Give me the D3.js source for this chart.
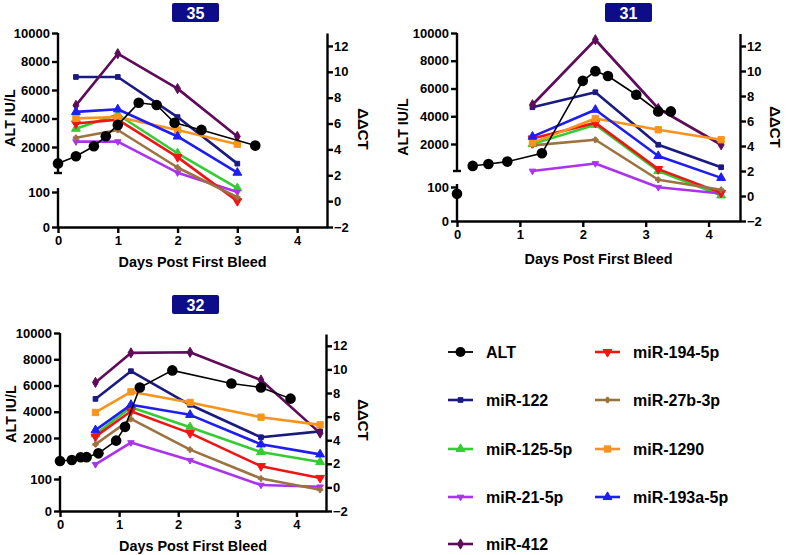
<!DOCTYPE html>
<html>
<head>
<meta charset="utf-8">
<script src="https://cdn.jsdelivr.net/npm/d3@7"></script>
<style>
  body { margin: 0; background: #fff; }
  svg text { font-family: "Liberation Sans", Arial, sans-serif; font-weight: bold; }
</style>
</head>
<body>
<svg id="chart" width="789" height="555"></svg>
<script>
// series names, order is the legend order (column 1 then 2, ALT first)
const mirNames = ["miR-122", "miR-125-5p", "miR-21-5p", "miR-412",
                  "miR-194-5p", "miR-27b-3p", "miR-1290", "miR-193a-5p"];
const leftTicks = [2000, 4000, 6000, 8000, 10000];
const lowTicks = [0, 100];
const rightTicks = [-2, 0, 2, 4, 6, 8, 10, 12];
const dayTicks = [0, 1, 2, 3, 4];

// ---- animal 35 ----
const days35 = [0.3, 1, 2, 3];
const dct35 = [
    [9.6, 9.6, 6.5, 2.9],   // miR-122
    [5.6, 6.7, 3.7, 1.0],   // miR-125-5p
    [4.6, 4.6, 2.2, 0.7],   // miR-21-5p
    [7.4, 11.4, 8.7, 5.0],  // miR-412
    [6.0, 6.3, 3.4, 0.0],   // miR-194-5p
    [4.9, 5.5, 2.6, 0.3],   // miR-27b-3p
    [6.4, 6.5, 5.5, 4.4],   // miR-1290
    [6.9, 7.1, 5.0, 2.2]    // miR-193a-5p
];
const altDays35 = [0, 0.3, 0.6, 0.8, 1.0, 1.35, 1.65, 1.95, 2.4, 3.3];
const alt35 = [850, 1350, 2050, 2750, 3550, 5100, 4950, 3700, 3200, 2100];

// ---- animal 31 ----
const days31 = [1.2, 2.2, 3.2, 4.2];
const dct31 = [
    [7.1, 8.3, 4.1, 2.3],
    [4.15, 5.7, 2.0, 0.05],
    [2.0, 2.6, 0.7, 0.2],
    [7.3, 12.5, 7.0, 4.1],
    [4.6, 5.85, 2.15, 0.25],
    [4.05, 4.5, 1.3, 0.5],
    [4.25, 6.2, 5.3, 4.5],
    [4.75, 6.9, 3.2, 1.45]
];
const altDays31 = [0, 0.25, 0.5, 0.8, 1.35, 2.0, 2.2, 2.4, 2.85, 3.2, 3.4];
const alt31 = [80, 420, 560, 730, 1330, 6550, 7250, 6900, 5550, 4350, 4350];

// ---- animal 32 ----
const days32 = [0.6, 1.2, 2.2, 3.4, 4.4];
const dct32 = [
    [7.5, 9.85, 7.0, 4.25, 4.75],
    [4.5, 6.8, 5.1, 3.0, 2.15],
    [1.95, 3.8, 2.3, 0.2, 0.05],
    [8.9, 11.4, 11.45, 9.1, 4.6],
    [4.3, 6.45, 4.6, 1.8, 0.8],
    [3.65, 5.8, 3.2, 0.75, -0.2],
    [6.35, 8.1, 7.2, 5.95, 5.3],
    [4.85, 7.0, 6.15, 3.65, 2.8]
];
const altDays32 = [0, 0.2, 0.35, 0.45, 0.65, 0.95, 1.1, 1.35, 1.9, 2.9, 3.4, 3.9];
const alt32 = [250, 320, 530, 540, 830, 1800, 2850, 5850, 7150, 6150, 5850, 5000];

// styles
const colors = {
    "ALT": "#000000",
    "miR-122": "#1a1a80",
    "miR-125-5p": "#33cc33",
    "miR-21-5p": "#aa33ee",
    "miR-412": "#5e0b5a",
    "miR-194-5p": "#f01515",
    "miR-27b-3p": "#9c7240",
    "miR-1290": "#f7941d",
    "miR-193a-5p": "#1e1ef0"
};
const shapes = {
    "miR-122": [d3.symbolSquare, 22, 0],
    "miR-125-5p": [d3.symbolTriangle, 34, 0],
    "miR-21-5p": [d3.symbolTriangle, 18, 180],
    "miR-412": [d3.symbolDiamond, 30, 0],
    "miR-194-5p": [d3.symbolTriangle, 34, 180],
    "miR-27b-3p": [d3.symbolCross, 16, 0],
    "miR-1290": [d3.symbolSquare, 40, 0],
    "miR-193a-5p": [d3.symbolTriangle, 34, 0]
};

const svg = d3.select("#chart");
const fmt = d3.format("d");

function styleAxis(g) {
    g.selectAll("path, line").attr("stroke", "#000").attr("stroke-width", 2.4);
    g.selectAll("text").attr("font-size", 13).attr("fill", "#000")
        .style("font-weight", "bold");
}

function marker(g, name, cx, cy) {
    var s = shapes[name];
    g.append("path")
        .attr("d", d3.symbol().type(s[0]).size(s[1])())
        .attr("transform", "translate(" + cx + "," + cy + ") rotate(" + s[2] + ")")
        .attr("fill", colors[name])
        .attr("stroke", colors[name])
        .attr("stroke-width", 1);
}

function drawPanel(p, title, days, dct, altDays, alt) {
    var g = svg.append("g");
    var x = d3.scaleLinear().domain([0, 4.5]).range([p.left, p.right]);
    var yUp = d3.scaleLinear().domain([0, 10000]).range([p.up0, p.up10k]);
    var yLo = d3.scaleLinear().domain([0, 100]).range([p.bottom, p.lo100]);
    var yR = d3.scaleLinear().domain([-2, 13]).range([p.bottom, p.rTop]);

    // x axis
    g.append("g")
        .attr("transform", "translate(0," + p.bottom + ")")
        .call(d3.axisBottom(x).tickValues(dayTicks).tickFormat(fmt)
            .tickSize(6).tickSizeOuter(0).tickPadding(3))
        .call(styleAxis);

    // left axis, upper segment
    var up = g.append("g")
        .attr("transform", "translate(" + p.left + ",0)")
        .call(d3.axisLeft(yUp).tickValues(leftTicks).tickFormat(fmt).tickSize(6).tickPadding(2))
        .call(styleAxis);
    up.select(".domain").remove();
    g.append("line").attr("x1", p.left).attr("x2", p.left)
        .attr("y1", yUp(10000)).attr("y2", p.breakY);
    g.append("line").attr("x1", p.left - 4).attr("x2", p.left + 4)
        .attr("y1", p.breakY).attr("y2", p.breakY);

    // left axis, lower segment
    var lo = g.append("g")
        .attr("transform", "translate(" + p.left + ",0)")
        .call(d3.axisLeft(yLo).tickValues(lowTicks).tickFormat(fmt).tickSize(6).tickPadding(2))
        .call(styleAxis);
    lo.select(".domain").remove();
    g.append("line").attr("x1", p.left).attr("x2", p.left)
        .attr("y1", p.bottom).attr("y2", p.loTop);
    g.selectAll(":scope > line").attr("stroke", "#000").attr("stroke-width", 2.4);

    // right axis
    g.append("g")
        .attr("transform", "translate(" + p.right + ",0)")
        .call(d3.axisRight(yR).tickValues(rightTicks).tickFormat(fmt)
            .tickSize(6).tickSizeOuter(0).tickPadding(1))
        .call(styleAxis);

    // miR series
    var line = d3.line().x(d => x(d[0])).y(d => yR(d[1]));
    mirNames.forEach(function(name, i) {
        var pts = days.map((d, j) => [d, dct[i][j]]);
        g.append("path")
            .attr("d", line(pts))
            .attr("fill", "none")
            .attr("stroke", colors[name])
            .attr("stroke-width", 2.6)
            .attr("stroke-linejoin", "round");
        pts.forEach(function(pt) { marker(g, name, x(pt[0]), yR(pt[1])); });
    });

    // ALT on the broken left axis
    var altPts = altDays.map((d, j) => [d, alt[j]]);
    var altY = v => v > 150 ? yUp(v) : yLo(v);
    g.append("path")
        .attr("d", d3.line().defined(d => d[1] > 150).x(d => x(d[0])).y(d => altY(d[1]))(altPts))
        .attr("fill", "none").attr("stroke", "#000").attr("stroke-width", 1.6);
    g.selectAll("circle.alt").data(altPts).enter().append("circle")
        .attr("class", "alt")
        .attr("cx", d => x(d[0])).attr("cy", d => altY(d[1]))
        .attr("r", 5.3).attr("fill", "#000");

    // labels
    g.append("text")
        .attr("transform", "translate(" + p.yLab[0] + "," + p.yLab[1] + ") rotate(-90)")
        .attr("text-anchor", "middle").attr("font-size", 14.2).text("ALT IU/L");
    g.append("text")
        .attr("transform", "translate(" + p.rLab[0] + "," + p.rLab[1] + ") rotate(90)")
        .attr("text-anchor", "middle").attr("font-size", 15).text("ΔΔCT");
    g.append("text")
        .attr("x", p.xLab[0]).attr("y", p.xLab[1])
        .attr("text-anchor", "middle").attr("font-size", 14.4).text("Days Post First Bleed");

    // title badge
    g.append("rect")
        .attr("x", p.badge[0]).attr("y", p.badge[1])
        .attr("width", 47).attr("height", 19).attr("rx", 2)
        .attr("fill", "#0d0d8a");
    g.append("text")
        .attr("x", p.badge[0] + 23.5).attr("y", p.badge[1] + 15.5)
        .attr("text-anchor", "middle").attr("font-size", 16).attr("fill", "#fff")
        .text(title);
}

drawPanel({left: 58, right: 327, bottom: 227, up0: 175.5, up10k: 33, breakY: 173,
           lo100: 192, loTop: 188, rTop: 33,
           yLab: [15, 118], rLab: [358, 129], xLab: [192.5, 267], badge: [172, 3]},
          "35", days35, dct35, altDays35, alt35);
drawPanel({left: 457, right: 740, bottom: 221, up0: 171.75, up10k: 33, breakY: 171,
           lo100: 187, loTop: 184, rTop: 33.5,
           yLab: [408, 127], rLab: [770, 127], xLab: [598.5, 264], badge: [605, 3]},
          "31", days31, dct31, altDays31, alt31);
drawPanel({left: 60, right: 326, bottom: 511, up0: 464.25, up10k: 333, breakY: 463,
           lo100: 479, loTop: 476, rTop: 334,
           yLab: [16, 414], rLab: [358, 420], xLab: [193, 551], badge: [172, 295]},
          "32", days32, dct32, altDays32, alt32);

// legend
const legCol1 = ["ALT", "miR-122", "miR-125-5p", "miR-21-5p", "miR-412"];
const legCol2 = ["miR-194-5p", "miR-27b-3p", "miR-1290", "miR-193a-5p"];
const legRows = [352, 400, 449, 497, 544];
const leg = svg.append("g");
function legendItem(name, lx, ly) {
    leg.append("line")
        .attr("x1", lx).attr("x2", lx + 25).attr("y1", ly).attr("y2", ly)
        .attr("stroke", colors[name]).attr("stroke-width", name == "ALT" ? 1.8 : 2.6);
    if (name == "ALT")
        leg.append("circle").attr("cx", lx + 12.5).attr("cy", ly).attr("r", 5).attr("fill", "#000");
    else marker(leg, name, lx + 12.5, ly);
    leg.append("text").attr("x", lx + 38).attr("y", ly + 6)
        .attr("font-size", 16).text(name);
}
legCol1.forEach((n, i) => legendItem(n, 448, legRows[i]));
legCol2.forEach((n, i) => legendItem(n, 595, legRows[i]));
</script>
</body>
</html>
